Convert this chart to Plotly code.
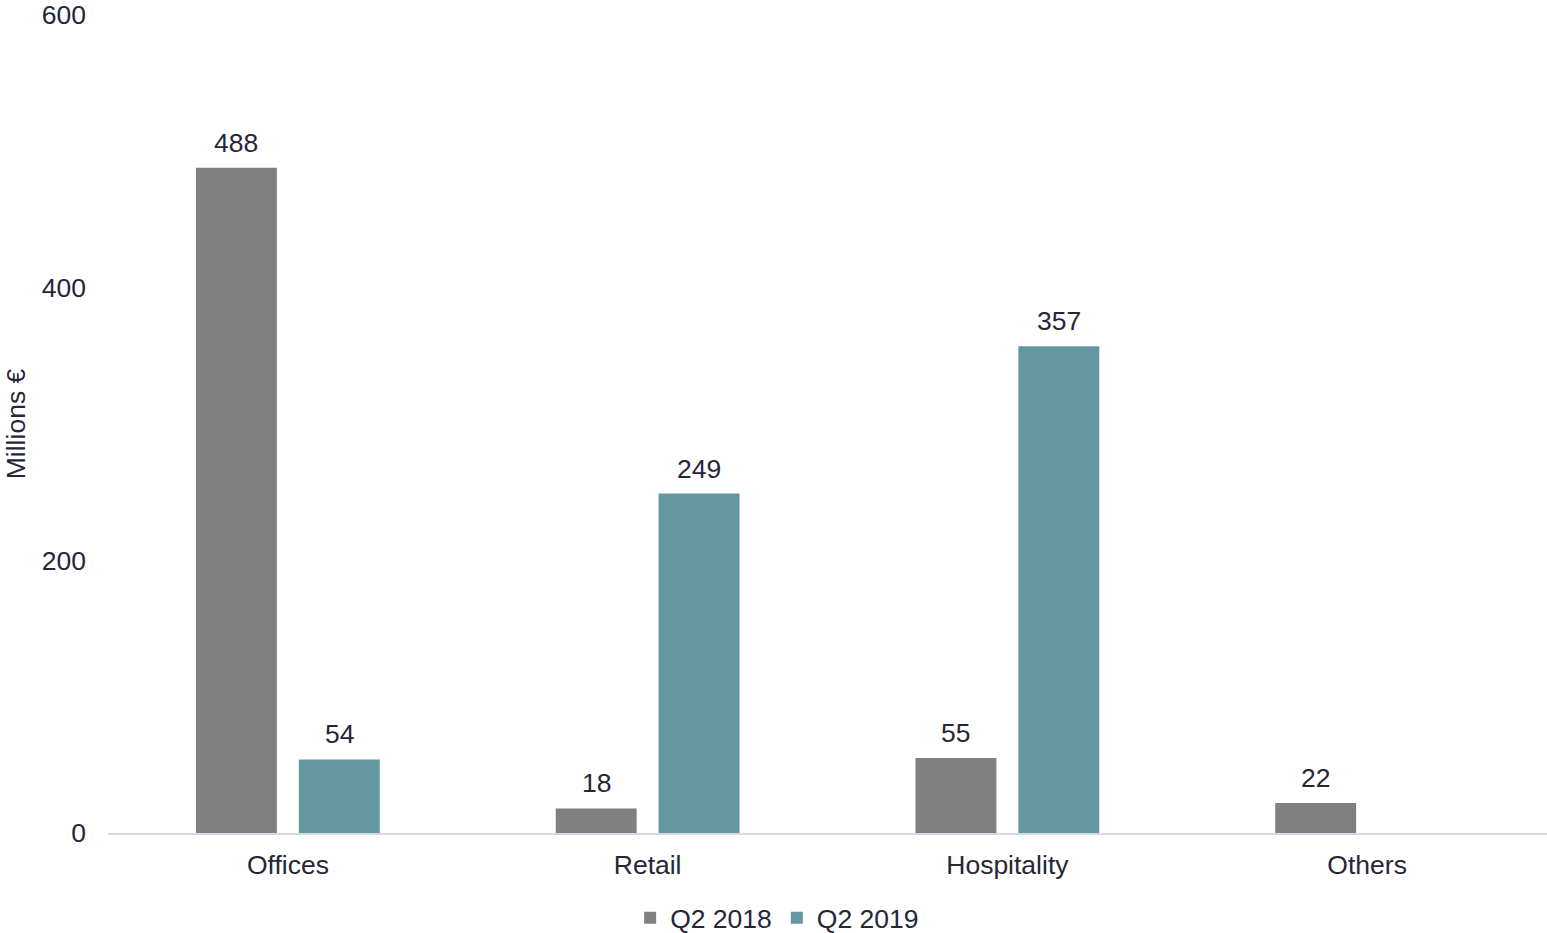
import plotly.graph_objects as go

categories = ["Offices", "Retail", "Hospitality", "Others"]
q2_2018 = [488, 18, 55, 22]
q2_2019 = [54, 249, 357, None]
series_names = ["Q2 2018", "Q2 2019"]
y_ticks = [0, 200, 400, 600]

FONT = "Liberation Sans, Arial, sans-serif"
TEXT_COLOR = "#262637"
COLORS = ["#808080", "#6398a0"]
FS = 26.5

fig = go.Figure()
for name, vals, col in zip(series_names, [q2_2018, q2_2019], COLORS):
    fig.add_trace(go.Bar(x=categories, y=vals, name=name, marker_color=col,
                         marker_line_width=0))

# value labels above each bar
shifts = [-51.5, 51.5]
for vals, dx in zip([q2_2018, q2_2019], shifts):
    for cat, v in zip(categories, vals):
        if v is None:
            continue
        fig.add_annotation(x=cat, y=v, text=str(v), showarrow=False,
                           xshift=dx, yshift=8, yanchor="bottom",
                           font=dict(family=FONT, size=FS, color=TEXT_COLOR))

fig.update_layout(
    width=1547, height=933,
    margin=dict(l=108, r=0, t=15, b=100, autoexpand=False),
    paper_bgcolor="white", plot_bgcolor="white",
    font=dict(family=FONT, size=FS, color=TEXT_COLOR),
    barmode="group", bargap=0.428, bargroupgap=0.2136,
    showlegend=True,
    legend=dict(orientation="h", x=0.465, xanchor="center", y=-0.104,
                yanchor="middle", font=dict(size=FS), traceorder="normal"),
    xaxis=dict(showline=True, linecolor="#d9d6ea", linewidth=2,
               showgrid=False, ticks="", ticklabelstandoff=7,
               automargin=False),
    yaxis=dict(range=[0, 600], tickvals=y_ticks, showgrid=False,
               zeroline=False, showline=False, ticks="",
               ticklabelstandoff=21, automargin=True,
               title=dict(text="Millions €", standoff=8,
                          font=dict(size=FS))),
)

fig.write_html("out.html")
